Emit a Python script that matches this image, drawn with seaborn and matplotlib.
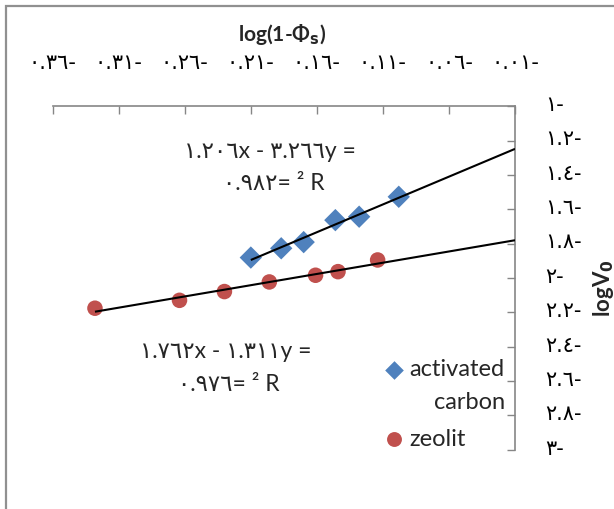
import numpy as np
import pandas as pd
import seaborn as sns
import matplotlib
matplotlib.use("Agg")
import matplotlib.pyplot as plt
import matplotlib.transforms as mtransforms
from matplotlib.patches import Rectangle

# ---- data ----
ac_x = [-0.210, -0.187, -0.170, -0.146, -0.128, -0.098]
ac_y = [-1.881, -1.827, -1.791, -1.663, -1.643, -1.527]
ze_x = [-0.328, -0.264, -0.230, -0.196, -0.161, -0.144, -0.114]
ze_y = [-2.176, -2.130, -2.079, -2.023, -1.984, -1.963, -1.895]

x_ticks = [-0.36, -0.31, -0.26, -0.21, -0.16, -0.11, -0.06, -0.01]
x_tick_labels = ["٠.٣٦-", "٠.٣١-", "٠.٢٦-", "٠.٢١-", "٠.١٦-", "٠.١١-", "٠.٠٦-", "٠.٠١-"]
y_ticks = [-1.0, -1.2, -1.4, -1.6, -1.8, -2.0, -2.2, -2.4, -2.6, -2.8, -3.0]
y_tick_labels = ["١-", "١.٢-", "١.٤-", "١.٦-", "١.٨-", "٢-", "٢.٢-", "٢.٤-", "٢.٦-", "٢.٨-", "٣-"]

series_names = ["activated carbon", "zeolit"]
eq_ac = ["١.٢٠٦x - ٣.٢٦٦y =", "٠.٩٨٢= ² R"]
eq_ze = ["١.٧٦٢x - ١.٣١١y =", "٠.٩٧٦= ² R"]

BLUE = "#4F81BD"
RED = "#C0504D"
GRAY = "#868686"

sns.set_theme(style="white")
plt.rcParams["font.family"] = ["Lato", "DejaVu Sans"]

W, H = 614, 510
fig = plt.figure(figsize=(W / 100, H / 100), dpi=100)
L, R, T, B = 52.7, 515.0, 107.3, 450.7
ax = fig.add_axes([L / W, 1 - B / H, (R - L) / W, (B - T) / H])

df = pd.DataFrame({
    "x": ac_x + ze_x,
    "y": ac_y + ze_y,
    "s": [series_names[0]] * len(ac_x) + [series_names[1]] * len(ze_x),
})
sns.scatterplot(data=df, x="x", y="y", hue="s", style="s",
                markers={series_names[0]: "D", series_names[1]: "o"},
                palette={series_names[0]: BLUE, series_names[1]: RED},
                size="s", sizes={series_names[0]: 130, series_names[1]: 125},
                linewidth=0, legend=False, ax=ax, zorder=2)

xmax = x_ticks[-1]
for xs, ys in [(ac_x, ac_y), (ze_x, ze_y)]:
    k, b = np.polyfit(xs, ys, 1)
    xx = np.array([min(xs), xmax])
    ax.plot(xx, k * xx + b, color="black", lw=1.5, zorder=3, solid_capstyle="butt")

ax.set_xlim(x_ticks[0], x_ticks[-1])
ax.set_ylim(-3.0, -1.0)

ax.xaxis.tick_top()
ax.yaxis.tick_right()
ax.set_xticks(x_ticks)
ax.set_xticklabels(x_tick_labels, fontsize=15, family=["DejaVu Sans"])
ax.set_yticks(y_ticks)
ax.set_yticklabels(y_tick_labels, fontsize=15, family=["DejaVu Sans"])
ax.tick_params(axis="x", which="both", direction="in", length=6, width=1, color=GRAY,
               top=True, bottom=False, pad=25, labelcolor="black")
ax.tick_params(axis="y", which="both", direction="in", length=6, width=1, color=GRAY,
               right=True, left=False, pad=22, labelcolor="black")
shift_up = mtransforms.ScaledTranslation(0, 3 / 72, fig.dpi_scale_trans)
for lab in ax.get_yticklabels():
    lab.set_transform(lab.get_transform() + shift_up)
for side in ["left", "bottom"]:
    ax.spines[side].set_visible(False)
for side in ["top", "right"]:
    ax.spines[side].set_visible(True)
    ax.spines[side].set_color(GRAY)
    ax.spines[side].set_linewidth(1.2)
ax.grid(False)

ax.xaxis.set_label_position("top")
ax.set_xlabel(r"log(1-Φ$_\mathbf{s}$)", fontsize=15, fontweight="bold")
ax.xaxis.set_label_coords((282.5 - L) / (R - L), (B - 35) / (B - T))
ax.xaxis.label.set_va("center")
ax.yaxis.set_label_position("right")
ax.set_ylabel(r"logV$_\mathbf{0}$", fontsize=16, fontweight="bold", rotation=90)
ax.yaxis.set_label_coords((603 - L) / (R - L), (B - 288) / (B - T))
ax.yaxis.label.set_va("center")
ax.yaxis.label.set_ha("center")

fam = ["Lato", "DejaVu Sans"]
def fig_text(px, py, s, **kw):
    fig.text(px / W, 1 - py / H, s, family=fam, **kw)

fig_text(270, 152, eq_ac[0], fontsize=16.5, ha="center", va="center")
fig_text(274, 184, eq_ac[1], fontsize=16.5, ha="center", va="center")
fig_text(226, 352, eq_ze[0], fontsize=16.5, ha="center", va="center")
fig_text(229, 385, eq_ze[1], fontsize=16.5, ha="center", va="center")

# legend (manual, Excel style with wrapped first entry)
ax.scatter([(394 - L) / (R - L)], [(B - 371) / (B - T)], marker="D", s=90, color=BLUE,
           linewidth=0, transform=ax.transAxes, clip_on=False)
ax.scatter([(394 - L) / (R - L)], [(B - 440) / (B - T)], marker="o", s=115, color=RED,
           linewidth=0, transform=ax.transAxes, clip_on=False)
fig_text(409, 370, "activated", fontsize=17, ha="left", va="center")
fig_text(505, 403, "carbon", fontsize=17, ha="right", va="center")
fig_text(409, 440, "zeolit", fontsize=17, ha="left", va="center")

fig.patches.append(Rectangle((5.7 / W, -0.1), 1.2, 1.1 - 7.3 / H, transform=fig.transFigure,
                             fill=False, edgecolor="#909090", lw=1.6))

fig.savefig("out.png", dpi=100)
